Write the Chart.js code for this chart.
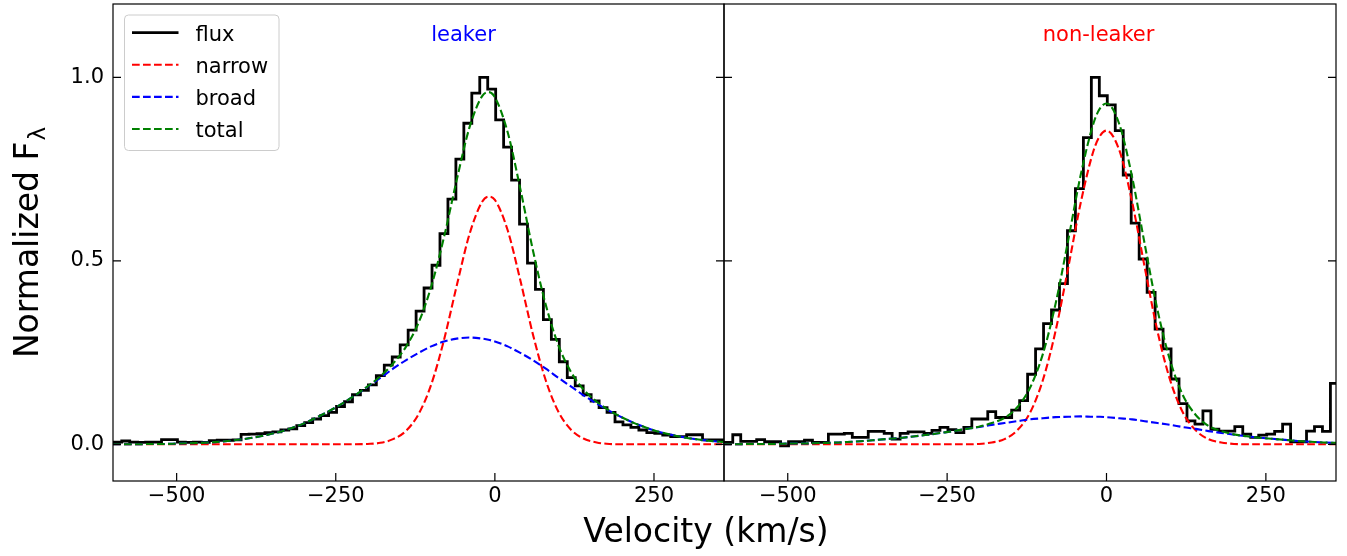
<!DOCTYPE html>
<html>
<head>
<meta charset="utf-8">
<title>Leaker vs non-leaker line profiles</title>
<script src="https://cdn.jsdelivr.net/npm/chart.js@4.4.1/dist/chart.umd.min.js"></script>
<style>
  html, body { margin: 0; padding: 0; background: #fff; }
  #wrap { position: relative; width: 1347px; height: 556px; }
  #wrap canvas { position: absolute; left: 0; top: 0; }
</style>
</head>
<body>
<div id="wrap">
  <canvas id="leftChart" width="1347" height="556"></canvas>
  <canvas id="rightChart" width="1347" height="556"></canvas>
</div>
<script>
// axis ticks
const xTicks = [-500, -250, 0, 250];
const yTicks = [0, 0.5, 1.0];

// velocity bin centres of the observed spectra (km/s)
const binCenters = [-605, -592.5, -580, -567.5, -555, -542.5, -530, -517.5, -505, -492.5,
  -480, -467.5, -455, -442.5, -430, -417.5, -405, -392.5, -380, -367.5,
  -355, -342.5, -330, -317.5, -305, -292.5, -280, -267.5, -255, -242.5,
  -230, -217.5, -205, -192.5, -180, -167.5, -155, -142.5, -130, -117.5,
  -105, -92.5, -80, -67.5, -55, -42.5, -30, -17.5, -5, 7.5,
  20, 32.5, 45, 57.5, 70, 82.5, 95, 107.5, 120, 132.5,
  145, 157.5, 170, 182.5, 195, 207.5, 220, 232.5, 245, 257.5,
  270, 282.5, 295, 307.5, 320, 332.5, 345, 357.5, 370];

const fluxLeft = [0.006, 0.006, 0.009, 0.006, 0.005, 0.006, 0.006, 0.013, 0.013, 0.006,
  0.005, 0.006, 0.005, 0.010, 0.011, 0.011, 0.012, 0.027, 0.028, 0.029,
  0.032, 0.034, 0.039, 0.042, 0.051, 0.059, 0.069, 0.078, 0.087, 0.103,
  0.116, 0.135, 0.147, 0.162, 0.187, 0.216, 0.238, 0.271, 0.311, 0.363,
  0.426, 0.488, 0.574, 0.668, 0.777, 0.875, 0.957, 1.000, 0.968, 0.884,
  0.810, 0.720, 0.600, 0.494, 0.422, 0.340, 0.286, 0.225, 0.182, 0.159,
  0.135, 0.118, 0.100, 0.087, 0.061, 0.053, 0.046, 0.039, 0.032, 0.030,
  0.025, 0.021, 0.021, 0.026, 0.026, 0.012, 0.012, 0.012, 0.012];

const fluxRight = [0.005, 0.005, 0.026, 0.008, 0.008, 0.013, 0.007, 0.007, -0.004, 0.007,
  0.007, 0.011, 0.005, 0.005, 0.028, 0.028, 0.030, 0.019, 0.019, 0.035,
  0.035, 0.030, 0.014, 0.030, 0.034, 0.034, 0.030, 0.038, 0.046, 0.040,
  0.032, 0.046, 0.069, 0.069, 0.089, 0.073, 0.073, 0.093, 0.119, 0.191,
  0.260, 0.329, 0.366, 0.438, 0.582, 0.697, 0.836, 1.000, 0.950, 0.925,
  0.855, 0.734, 0.603, 0.505, 0.414, 0.314, 0.260, 0.178, 0.111, 0.064,
  0.055, 0.091, 0.041, 0.036, 0.036, 0.048, 0.028, 0.019, 0.025, 0.028,
  0.035, 0.055, 0.007, 0.007, 0.036, 0.048, 0.035, 0.166, 0.166];

const modelVel = [-600, -580, -560, -540, -520, -500, -480, -460, -440, -420,
  -400, -380, -360, -340, -320, -300, -280, -260, -240, -220,
  -200, -180, -160, -140, -120, -100, -80, -60, -40, -20,
  -10, 0, 20, 40, 60, 80, 100, 120, 140, 160,
  180, 200, 220, 240, 260, 280, 300, 320, 340, 360];

const narrowLeft = [0, 0, 0, 0, 0, 0, 0, 0, 0, 0,
  0, 0, 0, 0, 0, 0, 0, 0, 0, 0,
  0.001, 0.004, 0.014, 0.036, 0.082, 0.163, 0.284, 0.432, 0.572, 0.661,
  0.675, 0.666, 0.584, 0.447, 0.298, 0.174, 0.088, 0.039, 0.015, 0.005,
  0.001, 0, 0, 0, 0, 0, 0, 0, 0, 0];

const broadLeft = [0.000, 0.000, 0.000, 0.001, 0.001, 0.002, 0.003, 0.004, 0.006, 0.009,
  0.013, 0.018, 0.025, 0.033, 0.044, 0.057, 0.073, 0.091, 0.111, 0.133,
  0.157, 0.181, 0.206, 0.229, 0.249, 0.267, 0.280, 0.288, 0.291, 0.288,
  0.285, 0.280, 0.267, 0.249, 0.229, 0.206, 0.181, 0.157, 0.133, 0.111,
  0.091, 0.073, 0.057, 0.044, 0.033, 0.025, 0.018, 0.013, 0.009, 0.006];

const totalLeft = [0.000, 0.000, 0.000, 0.001, 0.001, 0.002, 0.003, 0.004, 0.006, 0.009,
  0.013, 0.018, 0.025, 0.033, 0.044, 0.057, 0.073, 0.091, 0.111, 0.133,
  0.158, 0.185, 0.220, 0.265, 0.331, 0.430, 0.564, 0.720, 0.863, 0.949,
  0.960, 0.946, 0.851, 0.696, 0.527, 0.380, 0.269, 0.196, 0.148, 0.116,
  0.092, 0.073, 0.057, 0.044, 0.033, 0.025, 0.018, 0.013, 0.009, 0.006];

const narrowRight = [0, 0, 0, 0, 0, 0, 0, 0, 0, 0,
  0, 0, 0, 0, 0, 0, 0, 0, 0, 0,
  0.001, 0.005, 0.014, 0.038, 0.086, 0.174, 0.308, 0.482, 0.662, 0.802,
  0.841, 0.855, 0.802, 0.662, 0.482, 0.308, 0.174, 0.086, 0.038, 0.014,
  0.005, 0.001, 0, 0, 0, 0, 0, 0, 0, 0];

const broadRight = [0.000, 0.000, 0.001, 0.001, 0.001, 0.002, 0.002, 0.003, 0.004, 0.005,
  0.007, 0.009, 0.012, 0.015, 0.018, 0.022, 0.026, 0.031, 0.036, 0.042,
  0.047, 0.053, 0.058, 0.063, 0.068, 0.071, 0.074, 0.075, 0.076, 0.075,
  0.075, 0.074, 0.071, 0.068, 0.063, 0.058, 0.053, 0.047, 0.042, 0.036,
  0.031, 0.026, 0.022, 0.018, 0.015, 0.012, 0.009, 0.007, 0.005, 0.004];

const totalRight = [0.000, 0.000, 0.001, 0.001, 0.001, 0.002, 0.002, 0.003, 0.004, 0.005,
  0.007, 0.009, 0.012, 0.015, 0.018, 0.022, 0.026, 0.031, 0.036, 0.042,
  0.048, 0.058, 0.072, 0.101, 0.154, 0.245, 0.382, 0.557, 0.738, 0.877,
  0.916, 0.929, 0.873, 0.730, 0.545, 0.366, 0.227, 0.133, 0.080, 0.050,
  0.036, 0.027, 0.022, 0.018, 0.015, 0.012, 0.009, 0.007, 0.005, 0.004];

const FONT = '"DejaVu Sans", Verdana, sans-serif';
const DASH = [7.7, 3.3];

function pts(xs, ys) {
  return xs.map((x, i) => ({ x, y: ys[i] }));
}

function buildDatasets(flux, narrow, broad, total) {
  const curve = { pointRadius: 0, fill: false, clip: 0, borderWidth: 2.1, borderDash: DASH, cubicInterpolationMode: "monotone" };
  return [
    { label: "flux", data: pts(binCenters, flux), borderColor: "#000000", borderWidth: 2.8,
      stepped: "middle", pointRadius: 0, fill: false, clip: 0, borderJoinStyle: "miter", order: 4 },
    { ...curve, label: "narrow", data: pts(modelVel, narrow), borderColor: "#ff0000", order: 3 },
    { ...curve, label: "broad", data: pts(modelVel, broad), borderColor: "#0000ff", order: 2 },
    { ...curve, label: "total", data: pts(modelVel, total), borderColor: "#008000", order: 1 },
  ];
}

// spines + inward tick marks, drawn over the data like matplotlib does
const frameTicks = {
  id: "frameTicks",
  afterDraw(chart) {
    const { ctx, chartArea: a, scales } = chart;
    ctx.save();
    ctx.strokeStyle = "#000";
    ctx.lineWidth = 1.2;
    ctx.beginPath();
    xTicks.forEach((v) => {
      const px = scales.x.getPixelForValue(v);
      ctx.moveTo(px, a.bottom);
      ctx.lineTo(px, a.bottom - 8);
    });
    yTicks.forEach((v) => {
      const py = scales.y.getPixelForValue(v);
      ctx.moveTo(a.left, py);
      ctx.lineTo(a.left + 8, py);
      ctx.moveTo(a.right, py);
      ctx.lineTo(a.right - 8, py);
    });
    ctx.stroke();
    ctx.strokeRect(a.left, a.top, a.right - a.left, a.bottom - a.top);
    ctx.restore();
  },
};

const panelTitle = {
  id: "panelTitle",
  afterDatasetsDraw(chart, args, opts) {
    const { ctx, scales } = chart;
    ctx.save();
    ctx.font = `21px ${FONT}`;
    ctx.fillStyle = opts.color;
    ctx.textAlign = "left";
    ctx.textBaseline = "alphabetic";
    ctx.fillText(opts.text, scales.x.getPixelForValue(opts.at[0]), scales.y.getPixelForValue(opts.at[1]));
    ctx.restore();
  },
};

const boxLegend = {
  id: "boxLegend",
  afterDraw(chart) {
    const { ctx, chartArea: a } = chart;
    const x0 = a.left + 11.5;
    const y0 = a.top + 11;
    ctx.save();
    ctx.beginPath();
    ctx.roundRect(x0, y0, 154.5, 135.5, 4);
    ctx.fillStyle = "rgba(255,255,255,0.8)";
    ctx.fill();
    ctx.strokeStyle = "#cccccc";
    ctx.lineWidth = 1;
    ctx.stroke();
    ctx.font = `21px ${FONT}`;
    ctx.textAlign = "left";
    ctx.textBaseline = "alphabetic";
    chart.data.datasets.forEach((ds, i) => {
      const ry = y0 + 17.7 + i * 32.1;
      ctx.beginPath();
      ctx.setLineDash(ds.borderDash || []);
      ctx.lineWidth = ds.borderWidth;
      ctx.strokeStyle = ds.borderColor;
      ctx.moveTo(x0 + 7.5, ry);
      ctx.lineTo(x0 + 54, ry);
      ctx.stroke();
      ctx.setLineDash([]);
      ctx.fillStyle = "#000";
      ctx.fillText(ds.label, x0 + 71, ry + 8);
    });
    ctx.restore();
  },
};

const axisTitles = {
  id: "axisTitles",
  afterDraw(chart) {
    const { ctx, chartArea: a } = chart;
    ctx.save();
    ctx.fillStyle = "#000";
    ctx.font = `33px ${FONT}`;
    ctx.textAlign = "center";
    ctx.textBaseline = "alphabetic";
    ctx.fillText("Velocity (km/s)", 706, 542);

    const main = "Normalized F";
    const sub = "λ";
    const wMain = ctx.measureText(main).width;
    ctx.font = `23px ${FONT}`;
    const wSub = ctx.measureText(sub).width;
    ctx.translate(38, (a.top + a.bottom) / 2);
    ctx.rotate(-Math.PI / 2);
    ctx.textAlign = "left";
    const start = -(wMain + wSub + 1) / 2;
    ctx.font = `33px ${FONT}`;
    ctx.fillText(main, start, 0);
    ctx.font = `23px ${FONT}`;
    ctx.fillText(sub, start + wMain + 1, 7);
    ctx.restore();
  },
};

function scaleOptions(showY) {
  return {
    x: {
      type: "linear",
      min: -600,
      max: 360,
      afterBuildTicks: (s) => { s.ticks = xTicks.map((v) => ({ value: v })); },
      afterFit: (s) => {
        s.height = 75;
        s.paddingLeft = 0;
        s.paddingRight = 0;
      },
      grid: { display: false, drawTicks: false },
      border: { display: false },
      ticks: {
        color: "#000",
        font: { family: FONT, size: 21 },
        padding: 3,
        maxRotation: 0,
        autoSkip: false,
        callback: (v) => String(v).replace("-", "\u2212"),
      },
    },
    y: {
      type: "linear",
      min: -0.1,
      max: 1.2,
      display: showY,
      afterBuildTicks: (s) => { s.ticks = yTicks.map((v) => ({ value: v })); },
      afterFit: (s) => {
        s.width = showY ? 113 : 0;
        s.paddingTop = 0;
        s.paddingBottom = 0;
      },
      grid: { display: false, drawTicks: false },
      border: { display: false },
      ticks: {
        color: "#000",
        font: { family: FONT, size: 21 },
        padding: 9,
        callback: (v) => v.toFixed(1),
      },
    },
  };
}

function makeChart(id, datasets, padding, showY, title, extraPlugins) {
  return new Chart(document.getElementById(id), {
    type: "line",
    data: { datasets },
    options: {
      responsive: false,
      animation: false,
      devicePixelRatio: 1,
      events: [],
      layout: { padding },
      scales: scaleOptions(showY),
      plugins: {
        legend: { display: false },
        tooltip: { enabled: false },
        panelTitle: title,
      },
    },
    plugins: [frameTicks, panelTitle, ...extraPlugins],
  });
}

makeChart(
  "leftChart",
  buildDatasets(fluxLeft, narrowLeft, broadLeft, totalLeft),
  { left: 0, top: 4, right: 623, bottom: 0 },
  true,
  { text: "leaker", color: "#0000ff", at: [-100, 1.1] },
  [boxLegend, axisTitles],
);

makeChart(
  "rightChart",
  buildDatasets(fluxRight, narrowRight, broadRight, totalRight),
  { left: 724, top: 4, right: 11, bottom: 0 },
  false,
  { text: "non-leaker", color: "#ff0000", at: [-100, 1.1] },
  [],
);
</script>
</body>
</html>
